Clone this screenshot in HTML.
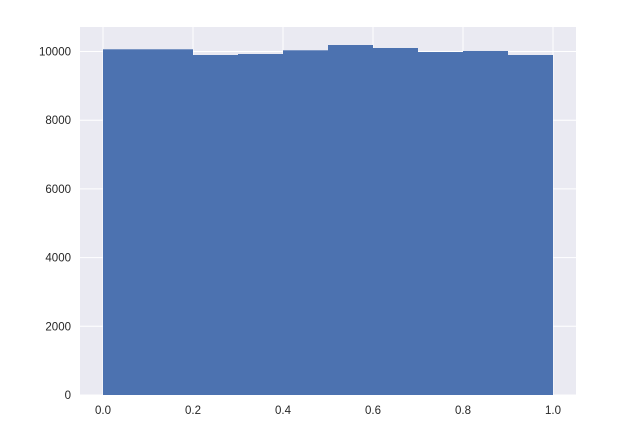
<!DOCTYPE html>
<html><head><meta charset="utf-8"><style>
body{margin:0;background:#fff;}
svg{display:block;font-family:"Liberation Sans",sans-serif;}
</style></head><body>
<svg id="chart" width="640" height="447">
<rect x="80" y="27" width="496" height="368" fill="#EAEAF2"/>
<g id="grid"></g><g id="bars"></g><g id="ticks"></g>
</svg>
<script>
const binEdges=[0,0.1,0.2,0.3,0.4,0.5,0.6,0.7,0.8,0.9,1.0];
const counts=[10064,10064,9898,9927,10035,10189,10102,9985,10015,9898];
const xTicks=[0,0.2,0.4,0.6,0.8,1.0];
const xTickLabels=["0.0","0.2","0.4","0.6","0.8","1.0"];
const yTicks=[0,2000,4000,6000,8000,10000];
const yTickLabels=["0","2000","4000","6000","8000","10000"];
const ns="http://www.w3.org/2000/svg";
const X=v=>103+v*450, Y=v=>395-v*0.03435;
function mk(t,a,p){const e=document.createElementNS(ns,t);for(const k in a)e.setAttribute(k,a[k]);p.appendChild(e);return e;}
const g=document.getElementById('grid'),b=document.getElementById('bars'),t=document.getElementById('ticks');
xTicks.forEach((v,i)=>{
 const l=mk('line',{x1:X(v),x2:X(v),y1:27,y2:395,stroke:'#fff','stroke-width':1},g);
 
 
 const tx=mk('text',{x:X(v),y:414,'text-anchor':'middle','font-size':11.5,fill:'#262626'},t);
 tx.textContent=xTickLabels[i];
 
 
});
yTicks.forEach((v,i)=>{
 const l=mk('line',{x1:80,x2:576,y1:Y(v),y2:Y(v),stroke:'#fff','stroke-width':1},g);
 
 
 const tx=mk('text',{x:71,y:Y(v)+4,'text-anchor':'end','font-size':11.5,fill:'#262626'},t);
 tx.textContent=yTickLabels[i];
 
 
});
counts.forEach((c,i)=>{
 const r=mk('rect',{x:X(binEdges[i]),y:Y(c),width:X(binEdges[i+1])-X(binEdges[i]),height:Y(0)-Y(c),fill:'#4C72B0'},b);
 
 
});
</script>
</body></html>
